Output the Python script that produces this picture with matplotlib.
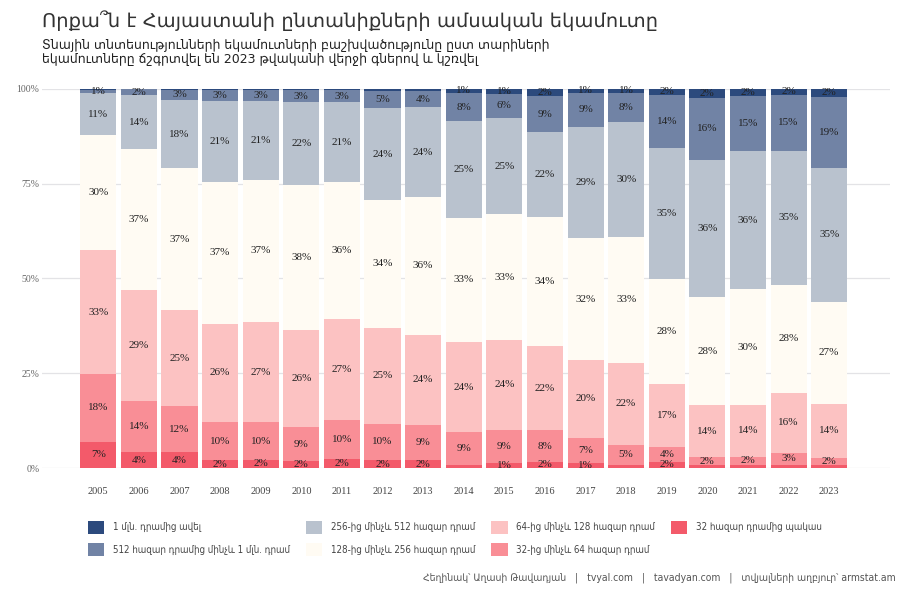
import numpy as np
import matplotlib
matplotlib.use('Agg')
import matplotlib.pyplot as plt
from matplotlib.patches import Patch
from matplotlib.font_manager import FontProperties

plt.rcParams['font.family'] = ['DejaVu Sans']

# տվյալներ (%)
years = list(range(2005, 2024))
lt32 = [6.9, 4.2, 4.1, 2.1, 2.2, 1.8, 2.4, 2.1, 2.0, 0.9, 1.2, 1.6, 1.2, 0.9, 1.7, 0.7, 0.8, 0.8, 0.7]
p32_64 = [17.9, 13.6, 12.2, 10.0, 9.8, 8.9, 10.2, 9.6, 9.3, 8.6, 8.9, 8.4, 6.8, 5.1, 3.8, 2.1, 2.1, 3.2, 2.0]
p64_128 = [32.6, 29.2, 25.4, 26.0, 26.6, 25.6, 26.6, 25.2, 23.9, 23.7, 23.6, 22.1, 20.4, 21.8, 16.6, 13.8, 13.8, 15.9, 14.2]
p128_256 = [30.3, 37.0, 37.3, 37.4, 37.3, 38.3, 36.2, 33.8, 36.2, 32.8, 33.2, 34.2, 32.3, 33.1, 27.8, 28.4, 30.4, 28.4, 27.0]
p256_512 = [11.1, 14.3, 18.1, 21.2, 20.8, 21.9, 21.1, 24.2, 23.7, 25.4, 25.4, 22.4, 29.3, 30.3, 34.6, 36.3, 36.4, 35.3, 35.3]
p512_1m = [1.0, 1.6, 2.6, 3.0, 3.0, 3.2, 3.1, 4.6, 4.2, 7.6, 6.4, 9.3, 8.9, 7.7, 13.9, 16.4, 14.7, 14.8, 18.7]
gt1m = [0.2, 0.1, 0.3, 0.3, 0.3, 0.3, 0.4, 0.5, 0.7, 1.0, 1.3, 2.0, 1.1, 1.1, 1.6, 2.3, 1.8, 1.6, 2.1]

groups = [
    ("32 հազար դրամից պակաս", lt32, "#f35a6a"),
    ("32-ից մինչև 64 հազար դրամ", p32_64, "#f98e96"),
    ("64-ից մինչև 128 հազար դրամ", p64_128, "#fcc2c2"),
    ("128-ից մինչև 256 հազար դրամ", p128_256, "#fffbf3"),
    ("256-ից մինչև 512 հազար դրամ", p256_512, "#b9c2ce"),
    ("512 հազար դրամից մինչև 1 մլն. դրամ", p512_1m, "#7183a5"),
    ("1 մլն. դրամից ավել", gt1m, "#2c4a7d"),
]

fig = plt.figure(figsize=(9, 6), dpi=100)
ax = fig.add_axes([0.047, 0.22, 0.942, 0.632])

x = np.array(years)
bottom = np.zeros(len(years))
handles = []
for name, vals, col in groups:
    vals = np.array(vals)
    ax.bar(x, vals, bottom=bottom, width=0.89, color=col, zorder=2)
    for xi, b, v in zip(x, bottom, vals):
        if v >= 0.95:
            ax.text(xi, b + v / 2, f"{v:.0f}%", ha='center', va='center',
                    fontsize=8, family='Liberation Serif', color='#222222', zorder=3)
    bottom += vals
    handles.append(Patch(facecolor=col, label=name))

ax.set_xlim(2005 - 1.38, 2005 + 19.5)
ax.set_ylim(0, 100)
ax.set_yticks([0, 25, 50, 75, 100])
ax.set_yticklabels(["0%", "25%", "50%", "75%", "100%"], family='Liberation Serif',
                   fontsize=7, color='#666666')
ax.set_xticks(years)
ax.set_xticklabels([str(y) for y in years], family='Liberation Serif', fontsize=7.5, color='#444444')
ax.tick_params(length=0, pad=14, axis='x')
ax.tick_params(length=0, pad=2, axis='y')
ax.yaxis.grid(True, color='#e3e3e6', lw=0.9, zorder=0)
ax.set_axisbelow(True)
for s in ax.spines.values():
    s.set_visible(False)

# լեգենդ
leg_font = FontProperties(family='DejaVu Sans', stretch='condensed', size=7)
leg = fig.legend(handles=handles[::-1], ncol=4, loc='upper left', bbox_to_anchor=(0.088, 0.147),
                 frameon=False, prop=leg_font, handlelength=1.7, handleheight=1.7,
                 columnspacing=1.6, labelspacing=0.95, handletextpad=0.9)
for t in leg.get_texts():
    t.set_color('#444444')

fig.text(0.047, 0.965, "Որքա՞ն է Հայաստանի ընտանիքների ամսական եկամուտը",
         fontsize=14, color='#333333', va='center', ha='left')
fig.text(0.047, 0.925, "Տնային տնտեսությունների եկամուտների բաշխվածությունը ըստ տարիների",
         fontsize=9, color='#222222', va='center', ha='left')
fig.text(0.047, 0.9, "եկամուտները ճշգրտվել են 2023 թվականի վերջի գներով և կշռվել",
         fontsize=9, color='#222222', va='center', ha='left')

fig.text(0.995, 0.037,
         "Հեղինակ՝ Աղասի Թավադյան   |   tvyal.com   |   tavadyan.com   |   տվյալների աղբյուր՝ armstat.am",
         fontproperties=FontProperties(family='DejaVu Sans', stretch='condensed', size=7.5),
         color='#555555', ha='right', va='center')

fig.savefig('out.png', dpi=100, facecolor='white')
